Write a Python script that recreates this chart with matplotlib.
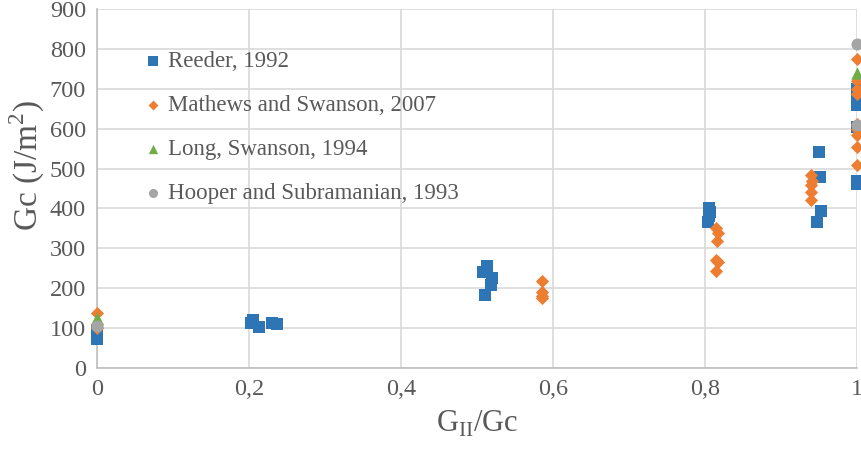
import matplotlib
matplotlib.use("Agg")
import matplotlib.pyplot as plt
from matplotlib.ticker import FuncFormatter

plt.rcParams['font.family'] = ['Liberation Serif', 'DejaVu Serif']

# Reeder, 1992
reeder_x = [0, 0, 0, 0.205, 0.203, 0.213, 0.230, 0.237, 0.508, 0.513, 0.520, 0.518, 0.511,
            0.805, 0.807, 0.805, 0.804, 0.950, 0.951, 0.953, 0.948,
            1, 1, 1, 1, 1, 1]
reeder_y = [72, 85, 95, 120, 112, 102, 112, 110, 240, 255, 225, 207, 182,
            400, 392, 380, 365, 542, 480, 393, 365,
            700, 680, 660, 605, 470, 462]
# Mathews and Swanson, 2007
mathews_x = [0, 0, 0, 0.585, 0.585, 0.585, 0.585,
             0.815, 0.817, 0.816, 0.815, 0.817, 0.815,
             0.940, 0.941, 0.940, 0.940, 0.940,
             1, 1, 1, 1, 1, 1, 1, 1, 1]
mathews_y = [138, 110, 100, 218, 190, 180, 175,
             350, 338, 318, 272, 265, 242,
             485, 470, 460, 440, 420,
             775, 720, 700, 688, 612, 600, 585, 555, 510]
# Long, Swanson, 1994
long_x = [0, 0, 1]
long_y = [125, 118, 740]
# Hooper and Subramanian, 1993
hooper_x = [0, 1, 1]
hooper_y = [105, 812, 608]

xticks = [0, 0.2, 0.4, 0.6, 0.8, 1]
yticks = [0, 100, 200, 300, 400, 500, 600, 700, 800, 900]

fig = plt.figure(figsize=(8.61, 4.55), dpi=100)
ax = fig.add_axes([97/861, 1-368/455, 760/861, 359/455])

ax.scatter(reeder_x, reeder_y, marker='s', s=80, color='#2E75B6', label='Reeder, 1992', zorder=3, clip_on=False, linewidths=0)
ax.scatter(mathews_x, mathews_y, marker='D', s=45, color='#ED7D31', label='Mathews and Swanson, 2007', zorder=4, clip_on=False, linewidths=0)
ax.scatter(long_x, long_y, marker='^', s=80, color='#70AD47', label='Long, Swanson, 1994', zorder=5, clip_on=False, linewidths=0)
ax.scatter(hooper_x, hooper_y, marker='o', s=75, color='#A5A5A5', label='Hooper and Subramanian, 1993', zorder=6, clip_on=False, linewidths=0)

ax.set_xlim(0, 1)
ax.set_ylim(0, 900)
ax.set_xticks(xticks)
ax.set_yticks(yticks)
ax.xaxis.set_major_formatter(FuncFormatter(lambda v, p: ('%g' % v).replace('.', ',')))
ax.grid(True, color='#D9D9D9', linewidth=1.2)
ax.set_axisbelow(True)
for s in ['top', 'right']:
    ax.spines[s].set_visible(False)
for s in ['left', 'bottom']:
    ax.spines[s].set_color('#BFBFBF')
    ax.spines[s].set_linewidth(1.2)
ax.tick_params(length=0, labelsize=17.5, colors='#595959', pad=8)
ax.set_xlabel('G$_{\\mathregular{II}}$/Gc', fontsize=22, color='#595959', labelpad=6)
ax.set_ylabel('Gc (J/m$^{\\mathregular{2}}$)', fontsize=24, color='#595959', labelpad=6)
ax.yaxis.set_label_coords(-0.066, 0.565)

leg = ax.legend(loc='upper left', bbox_to_anchor=(0.062, 0.883), frameon=False, fontsize=16.5,
                labelcolor='#595959', handlelength=0.8, handletextpad=0.25, labelspacing=1.0,
                markerscale=0.75, borderaxespad=0, borderpad=0)

fig.savefig('out.png', dpi=100)
